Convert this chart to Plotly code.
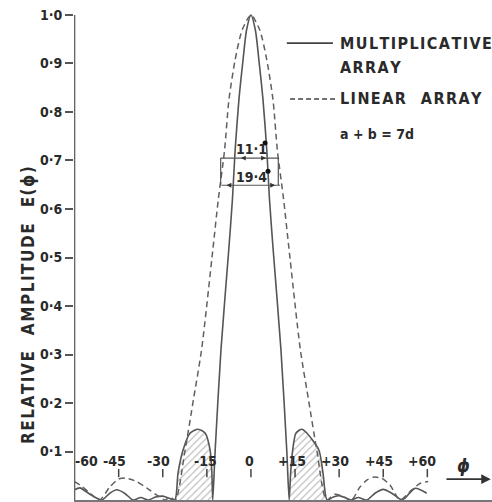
import plotly.graph_objects as go

# ---------------- data ----------------
# Multiplicative array (solid curve): angle phi (deg) and relative amplitude
phi_mult = [-60, -58.2, -54.8, -50.8, -48, -45.7, -43, -40.1, -37.5, -35, -32.5, -30, -28,
            -25.9, -24.8, -23.1, -20.7, -18.0, -15.6, -13.9, -13.3, -13.0,
            -12.2, -10.2, -7.5, -6.3, -5.4, -4.1, -2.7, -1.5, 0, 1.5, 2.7, 4.1, 5.4, 6.3, 7.5, 10.2, 12.2,
            13.0, 13.5, 14.2, 15.3, 17.3, 19.0, 23.1, 24.5, 25.9,
            28, 30, 32, 34, 36.5, 39.4, 42.2, 45, 47.9, 51.3, 52.4, 55.8, 59.8]
amp_mult = [0.021, 0.025, 0.012, 0, 0.014, 0.021, 0.014, 0, 0.005, 0, 0.006, 0.008, 0.004,
            0, 0.056, 0.103, 0.138, 0.146, 0.138, 0.103, 0.056, 0,
            0.10, 0.31, 0.52, 0.62, 0.72, 0.825, 0.907, 0.969, 1.0, 0.969, 0.907, 0.825, 0.72, 0.62, 0.52, 0.31, 0.10,
            0, 0.056, 0.103, 0.138, 0.146, 0.138, 0.103, 0.056, 0,
            0.006, 0.009, 0.005, 0, 0.005, 0, 0.014, 0.022, 0.014, 0, 0.004, 0.024, 0.014]

# Linear array (dashed curve)
phi_lin = [-60, -57.5, -54.8, -51.5, -48, -45.1, -42.5, -38.9, -35.5, -32, -29.3, -27.5,
           -25.7, -22.4, -19.6, -16.8, -12.9, -11.1, -9.0, -7.5, -5.4, -3.0, 0,
           3.0, 5.4, 7.5, 9.0, 11.1, 12.9, 16.8, 19.6, 22.4, 25.7,
           28.5, 31, 34.2, 37.1, 39.4, 41.6, 44.4, 47.3, 50.7, 54.7, 57.5, 60.3]
amp_lin = [0.038, 0.028, 0.014, 0, 0.027, 0.043, 0.045, 0.038, 0.025, 0.010, 0, 0.006,
           0, 0.103, 0.206, 0.31, 0.52, 0.62, 0.72, 0.825, 0.907, 0.969, 1.0,
           0.969, 0.907, 0.825, 0.72, 0.62, 0.52, 0.31, 0.206, 0.103, 0,
           0.012, 0.008, 0, 0.027, 0.041, 0.047, 0.045, 0.031, 0, 0.021, 0.034, 0.038]

x_tick_values = [-60, -45, -30, -15, 0, 15, 30, 45, 60]
x_tick_labels = ["-60", "-45", "-30", "-15", "0", "+15", "+30", "+45", "+60"]
y_tick_values = [0.1, 0.2, 0.3, 0.4, 0.5, 0.6, 0.7, 0.8, 0.9, 1.0]
y_tick_labels = ["0·1", "0·2", "0·3", "0·4", "0·5", "0·6", "0·7", "0·8", "0·9", "1·0"]

beamwidth_labels = ["11·1", "19·4"]
beamwidth_levels = [0.705, 0.649]
marker_phi = [4.8, 5.8]
marker_amp = [0.736, 0.678]

legend_multiplicative = ["MULTIPLICATIVE", "ARRAY"]
legend_linear = "LINEAR ARRAY"
legend_note = "a + b = 7d"
y_title = "RELATIVE AMPLITUDE E(ϕ)"

# ---------------- style ----------------
FONT = "DejaVu Sans Condensed"
INK = "#2a2a2a"
LINE = "#555555"
HAIR = "\u200a"


def spaced(text, word_gap="  "):
    return word_gap.join(HAIR.join(w) for w in text.split(" "))


fig = go.Figure()

# hatched first side lobes of the multiplicative array
for sign in (-1, 1):
    idx = [i for i, p in enumerate(phi_mult) if 12.9 <= sign * p <= 26]
    fig.add_trace(go.Scatter(
        x=[phi_mult[i] for i in idx], y=[amp_mult[i] for i in idx],
        mode="lines", line=dict(width=0, shape="spline", smoothing=0.7),
        fill="tozeroy", fillcolor="rgba(0,0,0,0)",
        fillpattern=dict(shape="/", fgcolor="#777777", bgcolor="rgba(0,0,0,0)", size=5, solidity=0.22),
        hoverinfo="skip", showlegend=False))

fig.add_trace(go.Scatter(x=phi_mult, y=amp_mult, mode="lines",
                         line=dict(color=LINE, width=1.6, shape="spline", smoothing=0.7),
                         showlegend=False))
fig.add_trace(go.Scatter(x=phi_lin, y=amp_lin, mode="lines",
                         line=dict(color="#606060", width=1.5, dash="6px,4px", shape="spline", smoothing=0.7),
                         showlegend=False))
fig.add_trace(go.Scatter(x=marker_phi, y=marker_amp, mode="markers",
                         marker=dict(color="#111", size=5), showlegend=False))

shapes = []
# y axis line
shapes.append(dict(type="line", xref="x", yref="y", x0=-60, x1=-60, y0=0, y1=1.0,
                   line=dict(color="#666", width=1.5)))
# x tick marks inside the plot
for v in x_tick_values[1:]:
    shapes.append(dict(type="line", xref="x", yref="y", x0=v, x1=v, y0=0.047, y1=0.064,
                       line=dict(color="#444", width=1.5)))

# beamwidth dimension box
xl, xr = -10.3, 9.3
shapes += [
    dict(type="line", xref="x", yref="y", x0=xl, x1=xr, y0=beamwidth_levels[0], y1=beamwidth_levels[0],
         line=dict(color="#555", width=1.2)),
    dict(type="line", xref="x", yref="y", x0=xl + 0.3, x1=xr + 0.6, y0=beamwidth_levels[1], y1=beamwidth_levels[1],
         line=dict(color="#555", width=1.2)),
    dict(type="line", xref="x", yref="y", x0=xl, x1=xl, y0=beamwidth_levels[1], y1=beamwidth_levels[0],
         line=dict(color="#555", width=1.2)),
    dict(type="line", xref="x", yref="y", x0=xr, x1=xr, y0=beamwidth_levels[1], y1=beamwidth_levels[0],
         line=dict(color="#555", width=1.2)),
]

# legend samples
shapes.append(dict(type="line", xref="x", yref="y", x0=12.2, x1=27.9, y0=0.942, y1=0.942,
                   line=dict(color="#444", width=1.6)))
shapes.append(dict(type="line", xref="x", yref="y", x0=13.3, x1=28.6, y0=0.827, y1=0.827,
                   line=dict(color="#444", width=1.5, dash="5px,3px")))

annotations = []
# x tick labels inside plot
xshifts = [12, -4, -4, -1, -1, -3, -4, -4, -5]
for v, t, s in zip(x_tick_values, x_tick_labels, xshifts):
    annotations.append(dict(x=v, y=0.080, xref="x", yref="y", text=t, showarrow=False,
                            xshift=s, font=dict(family=FONT, size=14, color=INK, weight="bold")))

# beamwidth texts
annotations.append(dict(x=0.3, y=0.724, xref="x", yref="y", text=beamwidth_labels[0], showarrow=False,
                        font=dict(family=FONT, size=14, color=INK, weight="bold")))
annotations.append(dict(x=0.3, y=0.666, xref="x", yref="y", text=beamwidth_labels[1], showarrow=False,
                        font=dict(family=FONT, size=14, color=INK, weight="bold")))
# arrowheads on the dimension lines
for head, tail, lvl in [(-3.4, -1.9, beamwidth_levels[0]), (5.1, 3.6, beamwidth_levels[0]),
                        (-8.3, -6.8, beamwidth_levels[1]), (8.2, 6.7, beamwidth_levels[1])]:
    annotations.append(dict(x=head, y=lvl, ax=tail, ay=lvl, xref="x", yref="y", axref="x", ayref="y",
                            text="", showarrow=True, arrowhead=2, arrowsize=0.8, arrowwidth=1.2,
                            arrowcolor="#333"))

# legend texts
leg_font = dict(family=FONT, size=16, color=INK, weight="bold")
annotations += [
    dict(x=29.6, y=0.941, xref="x", yref="y", text=spaced(legend_multiplicative[0]), showarrow=False,
         xanchor="left", font=leg_font),
    dict(x=29.6, y=0.891, xref="x", yref="y", text=spaced(legend_multiplicative[1]), showarrow=False,
         xanchor="left", font=leg_font),
    dict(x=29.6, y=0.827, xref="x", yref="y", text=spaced(legend_linear, "   "), showarrow=False,
         xanchor="left", font=leg_font),
    dict(x=29.6, y=0.755, xref="x", yref="y", text=legend_note, showarrow=False,
         xanchor="left", font=dict(family=FONT, size=14, color=INK, weight="bold")),
]

# phi axis label with arrow
annotations.append(dict(x=72.4, y=0.072, xref="x", yref="y", text="<i>ϕ</i>", showarrow=False,
                        font=dict(family=FONT, size=18, color=INK, weight="bold")))
annotations.append(dict(x=81.6, y=0.043, ax=66, ay=0.043, xref="x", yref="y", axref="x", ayref="y",
                        text="", showarrow=True, arrowhead=2, arrowsize=1.2, arrowwidth=1.6,
                        arrowcolor="#333"))

# y-axis title
annotations.append(dict(x=-0.11, y=0.394, xref="paper", yref="paper",
                        xanchor="center", yanchor="middle",
                        text=spaced(y_title, "   "),
                        textangle=-90, showarrow=False,
                        font=dict(family=FONT, size=17, color=INK, weight="bold")))

fig.update_layout(
    width=492, height=502,
    margin=dict(l=74, r=0, t=5, b=2),
    paper_bgcolor="white", plot_bgcolor="white",
    shapes=shapes, annotations=annotations,
    xaxis=dict(range=[-60.2, 82.0], showgrid=False, zeroline=False, showticklabels=False,
               ticks="", showline=True, linecolor="#777", linewidth=1.5),
    yaxis=dict(range=[0, 1.0206], showgrid=False, zeroline=False, showline=False,
               tickvals=y_tick_values, ticktext=y_tick_labels, ticks="outside", ticklen=8,
               tickwidth=1.5, tickcolor="#555",
               tickfont=dict(family=FONT, size=14, color=INK, weight="bold")),
)

fig.write_html("out.html", config={"displayModeBar": False},
               post_script="document.body.style.margin='0';")
